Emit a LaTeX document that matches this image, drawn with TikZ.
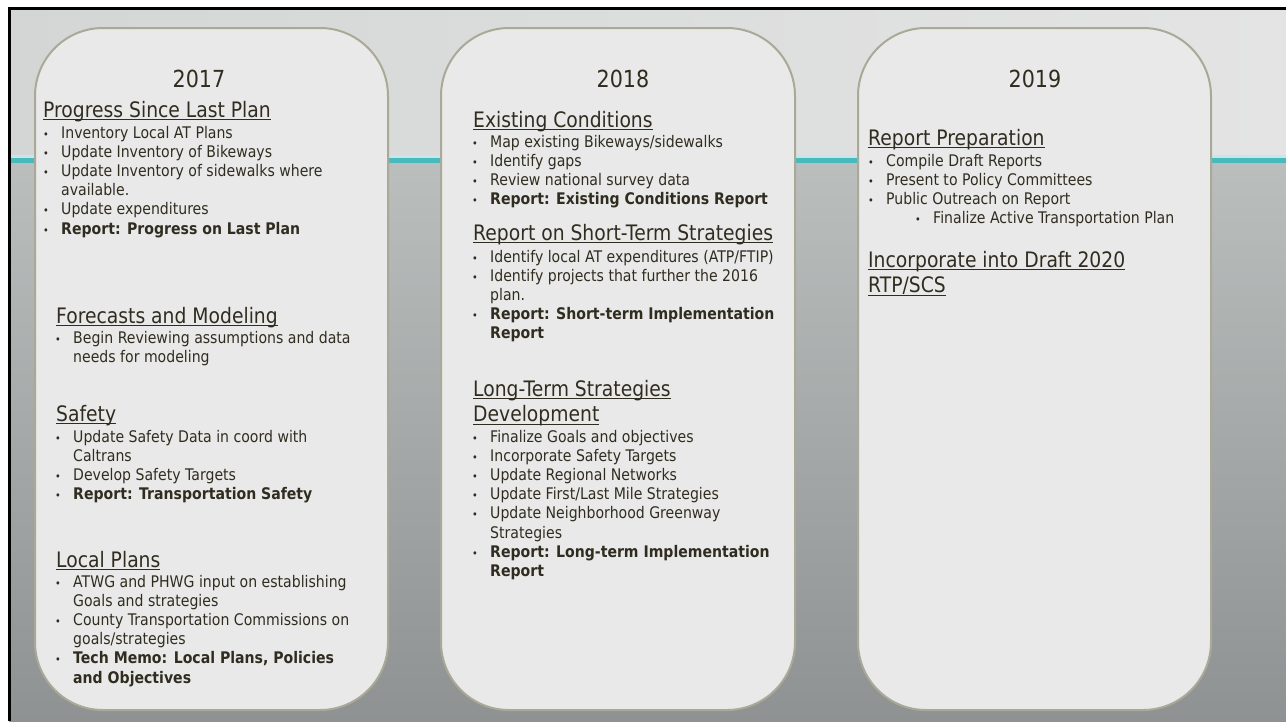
\documentclass[tikz,border=0pt]{standalone}
\usepackage{fontspec}
\setmainfont{DejaVu Sans}[FakeStretch=0.88]

\definecolor{ink}{RGB}{48,45,32}
\definecolor{card}{RGB}{233,233,233}
\definecolor{rim}{RGB}{170,169,152}
\definecolor{skyl}{RGB}{212,214,214}
\definecolor{skyr}{RGB}{228,228,228}
\definecolor{band}{RGB}{72,186,190}
\definecolor{bandhi}{RGB}{196,232,232}
\definecolor{lowtop}{RGB}{186,190,189}
\definecolor{lowbot}{RGB}{142,146,146}

% underlined heading text
\newcommand\hdline[1]{\setbox0\hbox{#1}\rlap{\rule[-3.4pt]{\wd0}{1.2pt}}\box0}
% one line of a list: bullet line, wrapped line, and the stack of them
\newcommand\itm{\makebox[18pt][l]{\fontsize{11}{11}\selectfont\textbullet}}
\newcommand\bl[1]{\hbox{\itm #1}}
\newcommand\cl[1]{\hbox{\hspace*{18pt}#1}}
\newcommand\stack[1]{\vtop{#1}}

\begin{document}
\begin{tikzpicture}[x=1pt,y=-1pt,
  panel/.style={draw=rim,line width=2pt,fill=card,rounded corners=68pt},
  yr/.style={anchor=base,inner sep=0,text=ink,font=\fontsize{23.5}{28}\selectfont},
  hd/.style={anchor=base west,inner sep=0,text=ink,font=\fontsize{21.3}{25.5}\selectfont},
  lst/.style={anchor=base west,inner sep=0,text=ink,font=\fontsize{16}{19.2}\selectfont}]
  \useasboundingbox (0,0) rectangle (1286,721);

  % backdrop
  \fill[white] (0,0) rectangle (1286,721);
  \shade[left color=skyl,right color=skyr] (9,8) rectangle (1286,156);
  \fill[bandhi] (9,155) rectangle (1286,157.5);
  \fill[band] (9,157.5) rectangle (1286,163);
  \shade[top color=lowtop,bottom color=lowbot] (9,163) rectangle (1286,721);
  \fill[black] (8,7) rectangle (1286,9.5);
  \fill[black] (8,7) rectangle (11,721);

  % the three year columns
  \draw[panel] (35,28) rectangle (388,710);
  \draw[panel] (441,28) rectangle (795,710);
  \draw[panel] (858,28) rectangle (1211,710);

  % 2017
  \node[yr] (y17) at (199,87) {2017};
  \node[hd] (h17a) at (43,117) {\hdline{Progress Since Last Plan}};
  \node[lst] (l17a) at (43,138) {\stack{\bl{Inventory Local AT Plans}
    \bl{Update Inventory of Bikeways}
    \bl{Update Inventory of sidewalks where}
    \cl{available.}
    \bl{Update expenditures}
    \bl{\textbf{Report: Progress on Last Plan}}}};
  \node[hd] (h17b) at (56,323) {\hdline{Forecasts and Modeling}};
  \node[lst] (l17b) at (55,343) {\stack{\bl{Begin Reviewing assumptions and data}
    \cl{needs for modeling}}};
  \node[hd] (h17c) at (56,421) {\hdline{Safety}};
  \node[lst] (l17c) at (55,442) {\stack{\bl{Update Safety Data in coord with}
    \cl{Caltrans}
    \bl{Develop Safety Targets}
    \bl{\textbf{Report: Transportation Safety}}}};
  \node[hd] (h17d) at (56,567) {\hdline{Local Plans}};
  \node[lst] (l17d) at (55,587) {\stack{\bl{ATWG and PHWG input on establishing}
    \cl{Goals and strategies}
    \bl{County Transportation Commissions on}
    \cl{goals/strategies}
    \bl{\textbf{Tech Memo: Local Plans, Policies}}
    \cl{\textbf{and Objectives}}}};

  % 2018
  \node[yr] (y18) at (623,87) {2018};
  \node[hd] (h18a) at (473,127) {\hdline{Existing Conditions}};
  \node[lst] (l18a) at (472,147) {\stack{\bl{Map existing Bikeways/sidewalks}
    \bl{Identify gaps}
    \bl{Review national survey data}
    \bl{\textbf{Report: Existing Conditions Report}}}};
  \node[hd] (h18b) at (473,240) {\hdline{Report on Short-Term Strategies}};
  \node[lst] (l18b) at (472,262) {\stack{\bl{Identify local AT expenditures (ATP/FTIP)}
    \bl{Identify projects that further the 2016}
    \cl{plan.}
    \bl{\textbf{Report: Short-term Implementation}}
    \cl{\textbf{Report}}}};
  \node[hd] (h18c) at (473,396) {\stack{\hbox{\hdline{Long-Term Strategies}}
    \hbox{\hdline{Development}}}};
  \node[lst] (l18c) at (472,442) {\stack{\bl{Finalize Goals and objectives}
    \bl{Incorporate Safety Targets}
    \bl{Update Regional Networks}
    \bl{Update First/Last Mile Strategies}
    \bl{Update Neighborhood Greenway}
    \cl{Strategies}
    \bl{\textbf{Report: Long-term Implementation}}
    \cl{\textbf{Report}}}};

  % 2019
  \node[yr] (y19) at (1035,87) {2019};
  \node[hd] (h19a) at (868,145) {\hdline{Report Preparation}};
  \node[lst] (l19a) at (868,166) {\stack{\bl{Compile Draft Reports}
    \bl{Present to Policy Committees}
    \bl{Public Outreach on Report}
    \hbox{\hspace*{47pt}\itm Finalize Active Transportation Plan}}};
  \node[hd] (h19b) at (868,267) {\stack{\hbox{\hdline{Incorporate into Draft 2020}}
    \hbox{\hdline{RTP/SCS}}}};
\end{tikzpicture}
\end{document}
